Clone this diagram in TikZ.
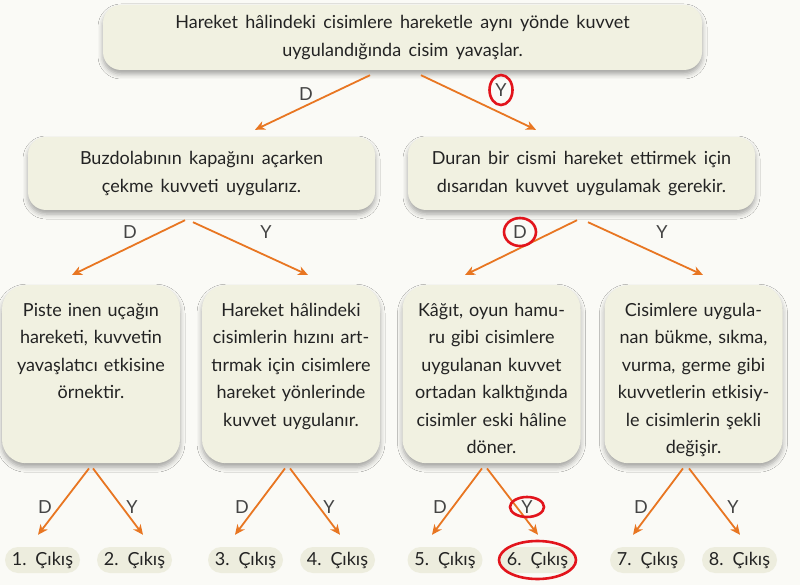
\documentclass[tikz,border=0pt]{standalone}
\usepackage{fontspec}
\setmainfont{Lato}[WordSpace=1.6]
\usepackage{tikz}
\usetikzlibrary{arrows.meta,shadows.blur}

\definecolor{paper}{RGB}{250,250,246}
\definecolor{cardfill}{RGB}{241,241,225}
\definecolor{pillfill}{RGB}{237,237,222}
\definecolor{arrorange}{RGB}{232,118,34}
\definecolor{markred}{RGB}{226,20,28}
\definecolor{ink}{RGB}{35,35,35}

\tikzset{
  card/.style = {fill=cardfill, rounded corners=18pt, align=center, text=ink,
    blur shadow={shadow xshift=0pt, shadow yshift=-4pt, shadow blur radius=5pt, shadow opacity=35}},
  tall card/.style = {card, rounded corners=24pt, anchor=north, text width=176pt,
    inner xsep=1pt, inner ysep=0pt, text height=31pt, text depth=147pt},
  exit/.style = {fill=pillfill, rounded corners=13pt, minimum width=75pt,
    minimum height=26pt, inner sep=0pt, text=ink},
  answer/.style = {text=ink!85, inner sep=1pt},
  arr/.style = {draw=arrorange, line width=1.8pt, -{Stealth[length=10pt,width=9pt,inset=3pt]}},
  ring/.style = {draw=markred, line width=2.6pt}
}

\begin{document}
\begin{tikzpicture}[x=1pt, y=-1pt, font=\fontsize{18}{27.5}\selectfont]
    \useasboundingbox[fill=paper] (0,0) rectangle (800,585);

    % question boxes
    \node[card, minimum width=599pt, minimum height=65pt] (top) at (402.5,37.5)
      {Hareket hâlindeki cisimlere hareketle aynı yönde kuvvet\\ uygulandığında cisim yavaşlar.};
    \node[card, minimum width=347pt, minimum height=73pt] (b1) at (201.5,173.5)
      {Buzdolabının kapağını açarken\\ çekme kuvveti uygularız.};
    \node[card, minimum width=347pt, minimum height=73pt] (b2) at (581.5,173.5)
      {Duran bir cismi hareket ettirmek için\\ dısarıdan kuvvet uygulamak gerekir.};

    \node[tall card] (c1) at (91,285)
      {Piste inen uçağın\\ hareketi, kuvvetin\\ yavaşlatıcı etkisine\\ örnektir.};
    \node[tall card] (c2) at (291,285)
      {Hareket hâlindeki\\ cisimlerin hızını art-\\ tırmak için cisimlere\\ hareket yönlerinde\\ kuvvet uygulanır.};
    \node[tall card] (c3) at (491.5,285)
      {Kâğıt, oyun hamu-\\ ru gibi cisimlere\\ uygulanan kuvvet\\ ortadan kalktığında\\ cisimler eski hâline\\ döner.};
    \node[tall card] (c4) at (693.5,285)
      {Cisimlere uygula-\\ nan bükme, sıkma,\\ vurma, germe gibi\\ kuvvetlerin etkisiy-\\ le cisimlerin şekli\\ değişir.};

    % exits
    \node[exit] (e1) at (42.5,560) {1. Çıkış};
    \node[exit] (e2) at (134.5,560) {2. Çıkış};
    \node[exit] (e3) at (245.5,560) {3. Çıkış};
    \node[exit] (e4) at (337.5,560) {4. Çıkış};
    \node[exit] (e5) at (445,560) {5. Çıkış};
    \node[exit] (e6) at (537.5,560) {6. Çıkış};
    \node[exit] (e7) at (647.5,560) {7. Çıkış};
    \node[exit] (e8) at (739.5,560) {8. Çıkış};

    % D / Y
    \node[answer] (dA) at (306,94) {D};
    \node[answer] (yA) at (501,90) {Y};
    \node[answer] (dB) at (130,232) {D};
    \node[answer] (yB) at (266,232) {Y};
    \node[answer] (dC) at (520,232) {D};
    \node[answer] (yC) at (662,232) {Y};
    \node[answer] (d1) at (45,507) {D};
    \node[answer] (y1) at (132,507) {Y};
    \node[answer] (d2) at (242,507) {D};
    \node[answer] (y2) at (329,507) {Y};
    \node[answer] (d3) at (440,507) {D};
    \node[answer] (y3) at (527,507) {Y};
    \node[answer] (d4) at (641,507) {D};
    \node[answer] (y4) at (733,507) {Y};

    % arrows
    \draw[arr] ([xshift=-32.5pt,yshift=-5pt]top.south) -- ([xshift=53.5pt,yshift=7pt]b1.north);
    \draw[arr] ([xshift=18.5pt,yshift=-5pt]top.south) -- ([xshift=-45.5pt,yshift=7pt]b2.north);

    \draw[arr] ([xshift=-16.5pt,yshift=-10pt]b1.south) -- ([xshift=-19pt,yshift=10pt]c1.north);
    \draw[arr] ([xshift=-8.5pt,yshift=-12pt]b1.south) -- ([xshift=17pt,yshift=10pt]c2.north);
    \draw[arr] ([xshift=-4.5pt,yshift=-10pt]b2.south) -- ([xshift=-26.5pt,yshift=10pt]c3.north);
    \draw[arr] ([xshift=6.5pt,yshift=-12pt]b2.south) -- ([xshift=9.5pt,yshift=10pt]c4.north);

    \draw[arr] ([xshift=-2pt,yshift=-5pt]c1.south) -- ([xshift=-4.5pt,yshift=12pt]e1.north);
    \draw[arr] ([xshift=2pt,yshift=-5pt]c1.south) -- ([xshift=8.5pt,yshift=12pt]e2.north);
    \draw[arr] ([xshift=-6pt,yshift=-5pt]c2.south) -- ([xshift=-10.5pt,yshift=12pt]e3.north);
    \draw[arr] ([xshift=-1pt,yshift=-5pt]c2.south) -- ([xshift=2.5pt,yshift=12pt]e4.north);
    \draw[arr] ([xshift=-9.5pt,yshift=-5pt]c3.south) -- ([xshift=-13pt,yshift=12pt]e5.north);
    \draw[arr] ([xshift=-4.5pt,yshift=-5pt]c3.south) -- ([xshift=0.5pt,yshift=12pt]e6.north);
    \draw[arr] ([xshift=-10.5pt,yshift=-5pt]c4.south) -- ([xshift=-14.5pt,yshift=12pt]e7.north);
    \draw[arr] ([xshift=-4.5pt,yshift=-5pt]c4.south) -- ([xshift=0.5pt,yshift=12pt]e8.north);

    % red marks
    \draw[ring] (yA) ellipse [x radius=11.5pt, y radius=15pt];
    \draw[ring] (dC) ellipse [x radius=16pt, y radius=14pt];
    \draw[ring] (y3) ellipse [x radius=17pt, y radius=10pt];
    \draw[ring] (e6) ellipse [x radius=38.5pt, y radius=19pt];
\end{tikzpicture}
\end{document}
